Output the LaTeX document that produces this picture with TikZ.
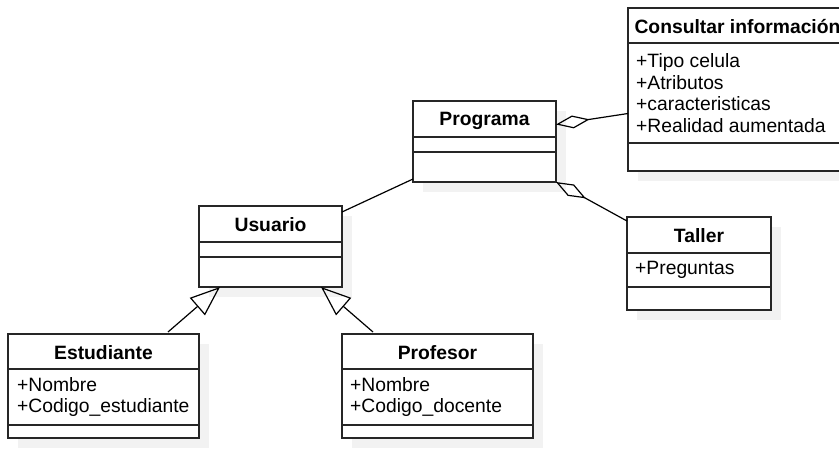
\documentclass[tikz,border=0pt]{standalone}
\usepackage{fontspec}
\setmainfont{Liberation Sans}
\usetikzlibrary{arrows.meta,shadows}

\tikzset{
  classbox/.style={draw=black!85, line width=1.2pt, fill=white, inner sep=0pt, outer sep=0pt,
    drop shadow={shadow xshift=10pt, shadow yshift=-10pt, fill=black!5, opacity=1}},
  classname/.style={font=\fontsize{19.3}{21.5}\selectfont\bfseries, inner sep=0pt},
  classattr/.style={font=\fontsize{19.3}{21.5}\selectfont, align=left, anchor=west, inner sep=0pt},
  divider/.style={draw=black!85, line width=1.2pt},
  assoc/.style={line width=1.2pt},
  aggr/.style={line width=1.2pt, -{Diamond[open, length=34pt, width=13pt]}},
  inherit/.style={line width=1.2pt, -{Triangle[open, length=30pt, width=23pt]}},
}

\begin{document}
\begin{tikzpicture}[x=1pt, y=-1pt]
    \useasboundingbox (0,0) rectangle (839,452);

    % Programa
    \node[classbox, minimum width=143, minimum height=81] (programa) at (484.5,141.5) {};
    \node[classname] at ([yshift=-20]programa.north) {Programa};
    \draw[divider] ([yshift=-36]programa.north west) -- ([yshift=-36]programa.north east);
    \draw[divider] ([yshift=-51]programa.north west) -- ([yshift=-51]programa.north east);

    % Consultar informacion
    \node[classbox, minimum width=219, minimum height=163] (consultar) at (737.5,89.5) {};
    \node[classname] at ([yshift=-19]consultar.north) {Consultar información};
    \draw[divider] ([yshift=-35]consultar.north west) -- ([yshift=-35]consultar.north east);
    \draw[divider] ([yshift=-135]consultar.north west) -- ([yshift=-135]consultar.north east);
    \node[classattr] at ([xshift=8, yshift=-85]consultar.north west)
        {+Tipo celula\\+Atributos\\+caracteristicas\\+Realidad aumentada};

    % Taller
    \node[classbox, minimum width=144, minimum height=93] (taller) at (699,263.5) {};
    \node[classname] at ([yshift=-19]taller.north) {Taller};
    \draw[divider] ([yshift=-36]taller.north west) -- ([yshift=-36]taller.north east);
    \draw[divider] ([yshift=-70]taller.north west) -- ([yshift=-70]taller.north east);
    \node[classattr] at ([xshift=8, yshift=-53]taller.north west) {+Preguntas};

    % Usuario
    \node[classbox, minimum width=143, minimum height=81] (usuario) at (270.5,246.5) {};
    \node[classname] at ([yshift=-19]usuario.north) {Usuario};
    \draw[divider] ([yshift=-36]usuario.north west) -- ([yshift=-36]usuario.north east);
    \draw[divider] ([yshift=-51]usuario.north west) -- ([yshift=-51]usuario.north east);

    % Estudiante
    \node[classbox, minimum width=191, minimum height=104] (estudiante) at (103.5,386) {};
    \node[classname] at ([yshift=-18.5]estudiante.north) {Estudiante};
    \draw[divider] ([yshift=-35]estudiante.north west) -- ([yshift=-35]estudiante.north east);
    \draw[divider] ([yshift=-91]estudiante.north west) -- ([yshift=-91]estudiante.north east);
    \node[classattr] at ([xshift=9, yshift=-63]estudiante.north west)
        {+Nombre\\+Codigo\_estudiante};

    % Profesor
    \node[classbox, minimum width=191, minimum height=104] (profesor) at (437.5,386) {};
    \node[classname] at ([yshift=-18.5]profesor.north) {Profesor};
    \draw[divider] ([yshift=-35]profesor.north west) -- ([yshift=-35]profesor.north east);
    \draw[divider] ([yshift=-91]profesor.north west) -- ([yshift=-91]profesor.north east);
    \node[classattr] at ([xshift=8, yshift=-63]profesor.north west)
        {+Nombre\\+Codigo\_docente};

    % relaciones
    \draw[assoc] ([yshift=-6]usuario.north east) -- ([yshift=3]programa.south west);
    \draw[aggr] ([yshift=-24]consultar.west) -- ([yshift=17]programa.east);
    \draw[aggr] ([yshift=-4]taller.north west) -- (programa.south east);
    \draw[inherit] ([xshift=-31, yshift=2]estudiante.north east) -- ([xshift=21]usuario.south west);
    \draw[inherit] ([xshift=31, yshift=2]profesor.north west) -- ([xshift=-21]usuario.south east);
\end{tikzpicture}
\end{document}
